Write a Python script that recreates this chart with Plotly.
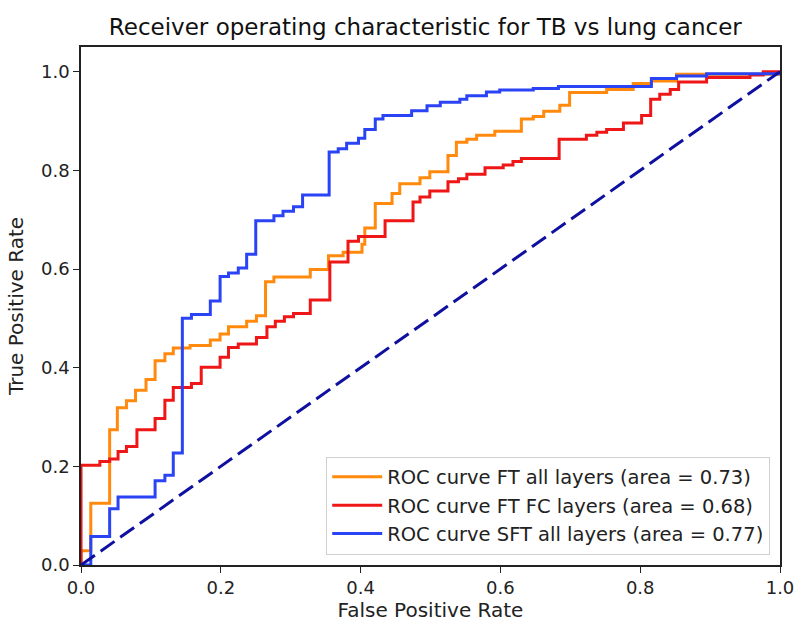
import plotly.graph_objects as go

# ROC vertices (hv steps): x = false positive rate, y = true positive rate after the rise
ft_all_fpr = [0, 0, 0.014, 0.041, 0.052, 0.065, 0.078, 0.093, 0.106, 0.120, 0.132, 0.156, 0.185, 0.199, 0.211,
              0.237, 0.251, 0.264, 0.276, 0.328, 0.354, 0.375, 0.402, 0.406, 0.421, 0.445, 0.456, 0.485, 0.499,
              0.525, 0.537, 0.552, 0.566, 0.592, 0.630, 0.647, 0.662, 0.685, 0.699, 0.752, 0.790, 0.816, 0.852, 1.0]
ft_all_tpr = [0, 0.029, 0.125, 0.274, 0.319, 0.333, 0.354, 0.376, 0.414, 0.428, 0.440, 0.445, 0.456, 0.468, 0.483,
              0.494, 0.505, 0.574, 0.584, 0.599, 0.627, 0.634, 0.650, 0.683, 0.733, 0.753, 0.773, 0.785, 0.797,
              0.830, 0.857, 0.863, 0.871, 0.879, 0.904, 0.909, 0.920, 0.932, 0.958, 0.964, 0.976, 0.981, 0.995, 1.0]

ft_fc_fpr = [0, 0, 0.027, 0.041, 0.053, 0.065, 0.080, 0.106, 0.120, 0.132, 0.158, 0.172, 0.199, 0.211, 0.225,
             0.251, 0.266, 0.278, 0.291, 0.304, 0.328, 0.356, 0.382, 0.397, 0.435, 0.475, 0.485, 0.499, 0.525,
             0.540, 0.552, 0.578, 0.604, 0.618, 0.630, 0.684, 0.723, 0.738, 0.752, 0.776, 0.802, 0.815, 0.828,
             0.843, 0.855, 0.895, 0.957, 0.976, 1.0]
ft_fc_tpr = [0, 0.202, 0.210, 0.215, 0.230, 0.240, 0.274, 0.297, 0.334, 0.360, 0.368, 0.401, 0.421, 0.441, 0.448,
             0.461, 0.483, 0.494, 0.503, 0.510, 0.537, 0.614, 0.656, 0.666, 0.698, 0.736, 0.746, 0.758, 0.777,
             0.783, 0.792, 0.805, 0.811, 0.818, 0.824, 0.863, 0.871, 0.877, 0.883, 0.896, 0.911, 0.944, 0.954,
             0.964, 0.979, 0.988, 0.993, 1.0, 1.0]

sft_all_fpr = [0, 0.014, 0.041, 0.053, 0.106, 0.120, 0.132, 0.145, 0.158, 0.185, 0.199, 0.211, 0.225, 0.237,
               0.250, 0.276, 0.289, 0.304, 0.317, 0.355, 0.368, 0.380, 0.397, 0.406, 0.421, 0.432, 0.473, 0.495,
               0.514, 0.542, 0.552, 0.580, 0.599, 0.647, 0.683, 0.816, 0.852, 0.895, 1.0]
sft_all_tpr = [0, 0.058, 0.114, 0.138, 0.171, 0.182, 0.227, 0.500, 0.508, 0.535, 0.585, 0.592, 0.602, 0.630,
               0.698, 0.708, 0.717, 0.726, 0.750, 0.837, 0.844, 0.855, 0.865, 0.883, 0.904, 0.911, 0.921, 0.931,
               0.938, 0.944, 0.951, 0.959, 0.963, 0.966, 0.970, 0.986, 0.991, 0.996, 1.0]

chance = [0, 1]

series_names = ["ROC curve FT all layers (area = 0.73)",
                "ROC curve FT FC layers (area = 0.68)",
                "ROC curve SFT all layers (area = 0.77)"]
x_ticks = [0.0, 0.2, 0.4, 0.6, 0.8, 1.0]
tick_text = ["0.0", "0.2", "0.4", "0.6", "0.8", "1.0"]

FONT = "DejaVu Sans"

fig = go.Figure()
fig.add_trace(go.Scatter(x=ft_all_fpr, y=ft_all_tpr, mode="lines", line_shape="hv",
                         line=dict(color="#ff8a0d", width=3), name=series_names[0]))
fig.add_trace(go.Scatter(x=ft_fc_fpr, y=ft_fc_tpr, mode="lines", line_shape="hv",
                         line=dict(color="#ee1616", width=3), name=series_names[1]))
fig.add_trace(go.Scatter(x=sft_all_fpr, y=sft_all_tpr, mode="lines", line_shape="hv",
                         line=dict(color="#2a43f5", width=3), name=series_names[2]))
fig.add_trace(go.Scatter(x=chance, y=chance, mode="lines", showlegend=False,
                         line=dict(color="#0f0fa0", width=3, dash="17px,7px")))

fig.update_layout(
    width=795, height=630,
    margin=dict(l=81, r=15, t=47, b=65, autoexpand=False),
    paper_bgcolor="white", plot_bgcolor="white",
    font=dict(family=FONT, size=18, color="#222222"),
    title=dict(text="Receiver operating characteristic for TB vs lung cancer",
               x=0.535, xanchor="center", y=0.957, yanchor="middle",
               font=dict(family=FONT, size=23, color="#111111")),
    legend=dict(x=0.986, xanchor="right", y=0.02, yanchor="bottom",
                bgcolor="rgba(255,255,255,0.9)", bordercolor="#d0d0d0", borderwidth=1,
                font=dict(family=FONT, size=19.5, color="#222222"),
                tracegroupgap=0, itemwidth=50),
    showlegend=True,
)
fig.update_xaxes(range=[0, 1], tickvals=x_ticks, ticktext=tick_text, automargin=False,
                 showgrid=False, zeroline=False, showline=True, linecolor="#222222", linewidth=1.5,
                 mirror=True, ticks="outside", ticklen=6, tickcolor="#222222",
                 tickfont=dict(size=18),
                 title=dict(text="False Positive Rate", standoff=6, font=dict(size=20)))
fig.update_yaxes(range=[0, 1.05], tickvals=x_ticks, ticktext=tick_text, automargin=False,
                 showgrid=False, zeroline=False, showline=True, linecolor="#222222", linewidth=1.5,
                 mirror=True, ticks="outside", ticklen=6, tickcolor="#222222",
                 tickfont=dict(size=18),
                 title=dict(text="True Positive Rate", standoff=12, font=dict(size=20)))

fig.write_html("out.html", config={"displayModeBar": False},
               post_script="document.body.style.margin='0px';document.body.style.padding='0px';")
